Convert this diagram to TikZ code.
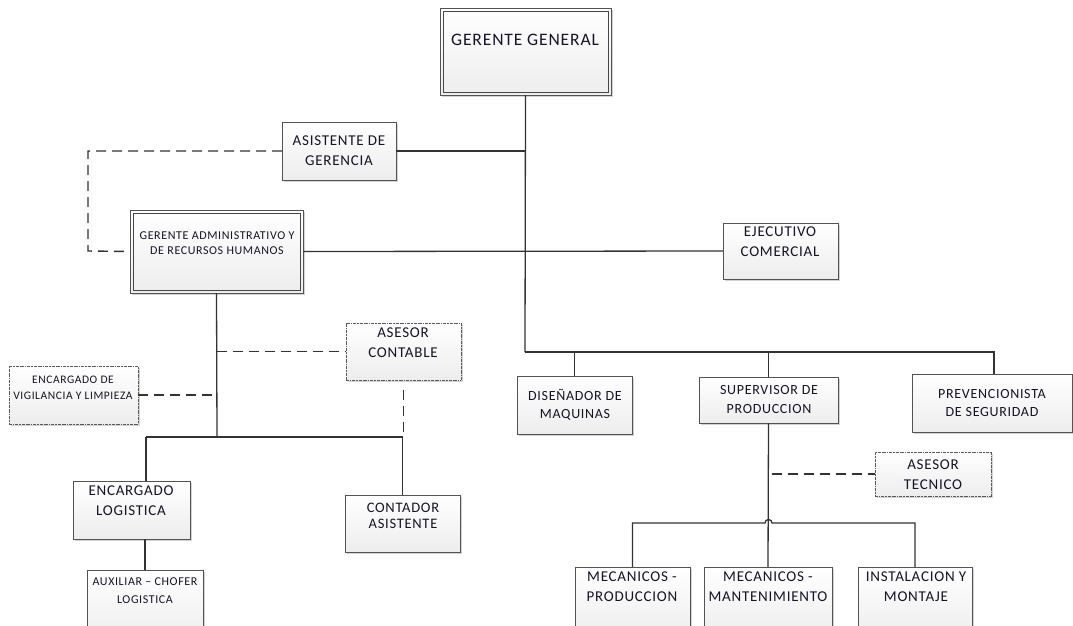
\documentclass[tikz,border=0pt]{standalone}
\usepackage{fontspec}
\setmainfont{Carlito}[LetterSpace=5]
\usetikzlibrary{shadows}
\definecolor{ink}{HTML}{14142A}
\definecolor{wire}{HTML}{333333}
\begin{document}
\begin{tikzpicture}[x=1pt,y=-1pt,
  box/.style={draw=gray!65!black, line width=0.7pt, top color=white, bottom color=gray!14,
    anchor=north west, inner sep=0pt, outer sep=0pt,
    drop shadow={shadow xshift=1.6pt, shadow yshift=-1.6pt, opacity=0.35, fill=gray}},
  inner/.style={draw=gray!55!black, line width=0.7pt},
  dotbox/.style={box, draw=gray!70!black, dash pattern=on 1.6pt off 0.8pt on 0.4pt off 0.8pt},
  txt/.style={text=ink, align=center, font=\fontsize{15}{20}\selectfont, inner sep=0pt},
  small/.style={text=ink, align=center, font=\fontsize{11.5}{16}\selectfont, inner sep=0pt},
  wire/.style={draw=wire, line width=1.3pt},
  dline/.style={draw=wire, line width=1.4pt, dash pattern=on 10pt off 6pt}]
\useasboundingbox (0,0) rectangle (1073,625);
\clip (0,0) rectangle (1073,625);

% boxes
\node[box, minimum width=171, minimum height=87] (gg) at (440,8) {};
\draw[inner] ([shift={(3,3)}]gg.north west) rectangle ([shift={(-3,-3)}]gg.south east);
\node[box, minimum width=114, minimum height=58] (asis) at (282,122) {};
\node[box, minimum width=173, minimum height=83] (ga) at (130,210) {};
\draw[inner] ([shift={(3,3)}]ga.north west) rectangle ([shift={(-3,-3)}]ga.south east);
\node[box, minimum width=115, minimum height=56] (ejec) at (723,223) {};
\node[dotbox, minimum width=115, minimum height=57] (ac) at (346,323) {};
\node[dotbox, minimum width=129, minimum height=58] (vig) at (9,366) {};
\node[box, minimum width=115, minimum height=58] (dis) at (517,376) {};
\node[box, minimum width=139, minimum height=46] (sup) at (699,377) {};
\node[box, minimum width=160, minimum height=58] (prev) at (912,374) {};
\node[dotbox, minimum width=116, minimum height=44] (at) at (875,452) {};
\node[box, minimum width=117, minimum height=58] (enc) at (73,481) {};
\node[box, minimum width=115, minimum height=57] (cont) at (345,495) {};
\node[box, minimum width=116, minimum height=70] (aux) at (87,570) {};
\node[box, minimum width=115, minimum height=70] (prod) at (575,567) {};
\node[box, minimum width=128, minimum height=70] (mant) at (704,567) {};
\node[box, minimum width=114, minimum height=70] (inst) at (858,567) {};

% labels
\node[txt, font=\fontsize{17.5}{20}\selectfont] (gg-t) at (525,40) {GERENTE GENERAL};
\node[txt] (asis-t) at (339,151) {ASISTENTE DE\\GERENCIA};
\node[small, font=\fontsize{12}{15}\selectfont] (ga-t) at (217,243.5) {GERENTE ADMINISTRATIVO Y\\DE RECURSOS HUMANOS};
\node[txt] (ejec-t) at (780,242) {EJECUTIVO\\COMERCIAL};
\node[txt] (ac-t) at (403,343) {ASESOR\\CONTABLE};
\node[small] (vig-t) at (73,388) {ENCARGADO DE\\VIGILANCIA Y LIMPIEZA};
\node[txt, font=\fontsize{14}{18}\selectfont] (dis-t) at (575,405) {DISEÑADOR DE\\MAQUINAS};
\node[txt, font=\fontsize{14}{19}\selectfont] (sup-t) at (769,399.5) {SUPERVISOR DE\\PRODUCCION};
\node[txt, font=\fontsize{14}{18}\selectfont] (prev-t) at (992,403) {PREVENCIONISTA\\DE SEGURIDAD};
\node[txt] (at-t) at (933,475) {ASESOR\\TECNICO};
\node[txt] (enc-t) at (131,500.5) {ENCARGADO\\LOGISTICA};
\node[txt, font=\fontsize{14.5}{16}\selectfont] (cont-t) at (403,516) {CONTADOR\\ASISTENTE};
\node[small, font=\fontsize{12}{18}\selectfont] (aux-t) at (145,591) {AUXILIAR -- CHOFER\\LOGISTICA};
\node[txt] (prod-t) at (632,587) {MECANICOS -\\PRODUCCION};
\node[txt] (mant-t) at (768,587) {MECANICOS -\\MANTENIMIENTO};
\node[txt] (inst-t) at (916,587) {INSTALACION Y\\MONTAJE};

% junction points
\coordinate (j1) at (525,352);
\coordinate (j2) at (217,437);
\coordinate (l1) at (146,437);

% main trunk and top level
\draw[wire] (gg.south) -- (j1);
\draw[wire] (asis.east) -- (asis.east -| gg.south);
\draw[wire] (ga.east) -- (ejec.west);
\draw[dline] (asis.west) -- (88,151) -- (88,251) -- (ga.west);

% production branch
\draw[wire] (j1) -| (dis.north);
\draw[wire] (j1) -| (994,374);
\draw[wire] (sup.north) -- (sup.north |- j1);
\draw[wire] (sup.south) -- (mant.north);
\draw[wire] (prod.north) |- (765,523) arc (180:360:3.5) -| (inst.north);
\draw[dline] ([xshift=3pt]sup.south |- at.west) -- (at.west);

% administration branch
\draw[wire] (ga.south) -- (j2);
\draw[wire] (l1) -- (l1 |- enc.north);
\draw[wire] (l1) -- (cont.north |- j2) -- (cont.north);
\draw[dline] (ga.south |- ac.west) -- (ac.west);
\draw[dline] (vig.east) -- (vig.east -| ga.south);
\draw[dline] ([yshift=-10pt]ac.south) -- (ac.south |- j2);
\draw[wire] (enc.south -| aux.north) -- (aux.north);
\end{tikzpicture}
\end{document}
